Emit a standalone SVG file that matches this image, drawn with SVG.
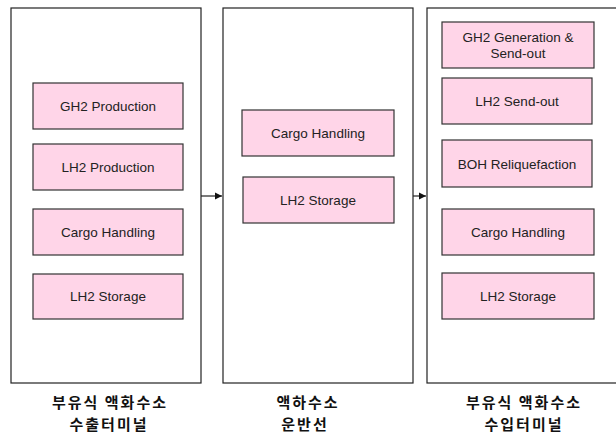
<svg xmlns="http://www.w3.org/2000/svg" width="616" height="438" viewBox="0 0 616 438">
<defs>
<style>
.outer{fill:#fff;stroke:#222;stroke-width:1.2}
.box{fill:#FFD5E8;stroke:#333;stroke-width:1.2}
.t{font-family:"Liberation Sans",Arial,sans-serif;font-size:13.5px;fill:#222;text-anchor:middle;dominant-baseline:central}
.k{font-family:"Noto Sans CJK KR","Noto Sans",sans-serif;font-size:15px;font-weight:bold;letter-spacing:2px;fill:#111;text-anchor:middle}
.c{stroke:#222;stroke-width:1.2;fill:none}
</style>
<marker id="ah" markerWidth="8" markerHeight="8" refX="7" refY="4" orient="auto" markerUnits="userSpaceOnUse">
<path d="M0,0.5 L7,4 L0,7.5 Z" fill="#111"/>
</marker>
</defs>
<rect width="616" height="438" fill="#fff"/>
<g id="export-terminal">
<rect class="outer" x="11" y="8" width="190" height="375"/>
<text class="k" x="110" y="408">부유식 액화수소</text>
<text class="k" x="109" y="430">수출터미널</text>
</g>
<g id="exp-gh2"><rect class="box" x="33" y="83" width="150" height="46"/><text class="t" x="108" y="106">GH2 Production</text></g>
<g id="exp-lh2"><rect class="box" x="33" y="144" width="150" height="46"/><text class="t" x="108" y="167">LH2 Production</text></g>
<g id="exp-cargo"><rect class="box" x="33" y="209" width="150" height="46"/><text class="t" x="108" y="232">Cargo  Handling</text></g>
<g id="exp-storage"><rect class="box" x="33" y="274" width="150" height="45"/><text class="t" x="108" y="296">LH2 Storage</text></g>

<g id="carrier">
<rect class="outer" x="223" y="8" width="190" height="375"/>
<text class="k" x="308" y="408">액하수소</text>
<text class="k" x="305" y="430">운반선</text>
</g>
<g id="car-cargo"><rect class="box" x="242" y="110" width="152" height="46"/><text class="t" x="318" y="133">Cargo  Handling</text></g>
<g id="car-storage"><rect class="box" x="243" y="177" width="151" height="46"/><text class="t" x="318" y="200">LH2 Storage</text></g>

<g id="import-terminal">
<rect class="outer" x="427" y="8" width="192" height="375"/>
<text class="k" x="524" y="408">부유식 액화수소</text>
<text class="k" x="524" y="430">수입터미널</text>
</g>
<g id="imp-gh2"><rect class="box" x="442" y="22" width="152" height="46"/><text class="t" x="518" y="37">GH2 Generation  &amp;</text><text class="t" x="518" y="53">Send-out</text></g>
<g id="imp-sendout"><rect class="box" x="442" y="78" width="150" height="46"/><text class="t" x="517" y="101">LH2 Send-out</text></g>
<g id="imp-boh"><rect class="box" x="442" y="140" width="150" height="47"/><text class="t" x="517" y="164">BOH Reliquefaction</text></g>
<g id="imp-cargo"><rect class="box" x="442" y="209" width="152" height="46"/><text class="t" x="518" y="232">Cargo  Handling</text></g>
<g id="imp-storage"><rect class="box" x="442" y="273" width="152" height="46"/><text class="t" x="518" y="296">LH2 Storage</text></g>

<g id="connectors">
<line class="c" x1="201" y1="196" x2="222" y2="196" marker-end="url(#ah)"/>
<line class="c" x1="413" y1="196" x2="426" y2="196" marker-end="url(#ah)"/>
</g>
</svg>
